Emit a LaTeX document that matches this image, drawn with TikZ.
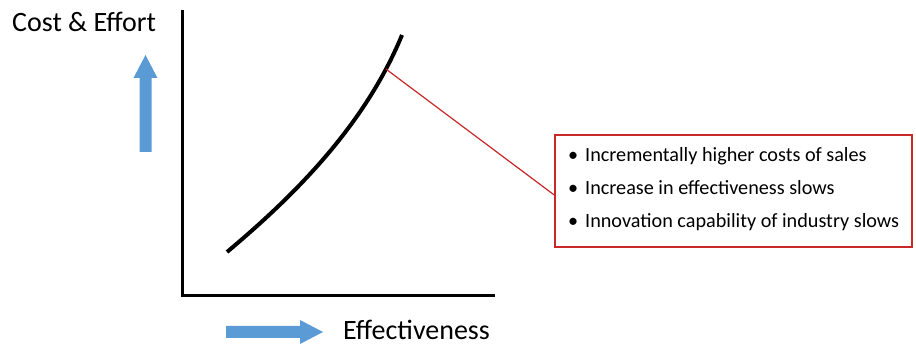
\documentclass[tikz,border=0pt]{standalone}
\usepackage{fontspec}
\setmainfont{Carlito}
\definecolor{arrowblue}{RGB}{91,155,213}
\definecolor{notered}{RGB}{200,40,40}

\begin{document}
\begin{tikzpicture}
[x=1pt,y=-1pt,
  axisdecorate/.style={line width=3pt,black},
  curvedecorate/.style={line width=4pt,black},
  blockarrow/.style={fill=arrowblue,draw=none},
  notedecorate/.style={draw=notered,line width=1.5pt,minimum width=357pt,
    minimum height=112pt,inner sep=0pt},
  linkdecorate/.style={draw=notered,line width=1.2pt},
  itemdecorate/.style={anchor=base west,inner sep=0pt,font=\fontsize{20.2}{22}\selectfont},
  labeldecorate/.style={anchor=base west,inner sep=0pt,font=\fontsize{28}{30}\selectfont}]
\useasboundingbox (0,0) rectangle (916,347);
%% axes
\coordinate (ytop) at (182,10);
\coordinate (xend) at (495,296);
\draw[axisdecorate] (ytop) |- (xend);
%% axis labels
\node (costlabel) at (12,32) [labeldecorate] {Cost \& Effort};
\node (efflabel) at (343,340) [labeldecorate] {Effectiveness};
%% block arrows
\fill[blockarrow] (139.5,152) -- (139.5,78) -- (133.5,78) -- (145.5,55)
  -- (157.5,78) -- (151.5,78) -- (151.5,152) -- cycle;
\fill[blockarrow] (226,326) -- (300,326) -- (300,320) -- (323,332)
  -- (300,344) -- (300,338) -- (226,338) -- cycle;
%% curve
\draw[curvedecorate] (227,252) .. controls (295,195) and (365,125) .. (402,35)
  coordinate[pos=0.87] (tap);
%% notes box and items
\node (notes) at (733.5,191) [notedecorate] {};
\foreach \itemname/\y/\itemtext in {first/162/Incrementally higher costs of sales,
  second/195/Increase in effectiveness slows,
  third/228/Innovation capability of industry slows} {
  \node (\itemname) at (568,\y) [itemdecorate] {\makebox[17pt][l]{\textbullet}\itemtext};
}
%% connector
\draw[linkdecorate] (tap) -- ([yshift=-4pt]notes.west);
\end{tikzpicture}
\end{document}
